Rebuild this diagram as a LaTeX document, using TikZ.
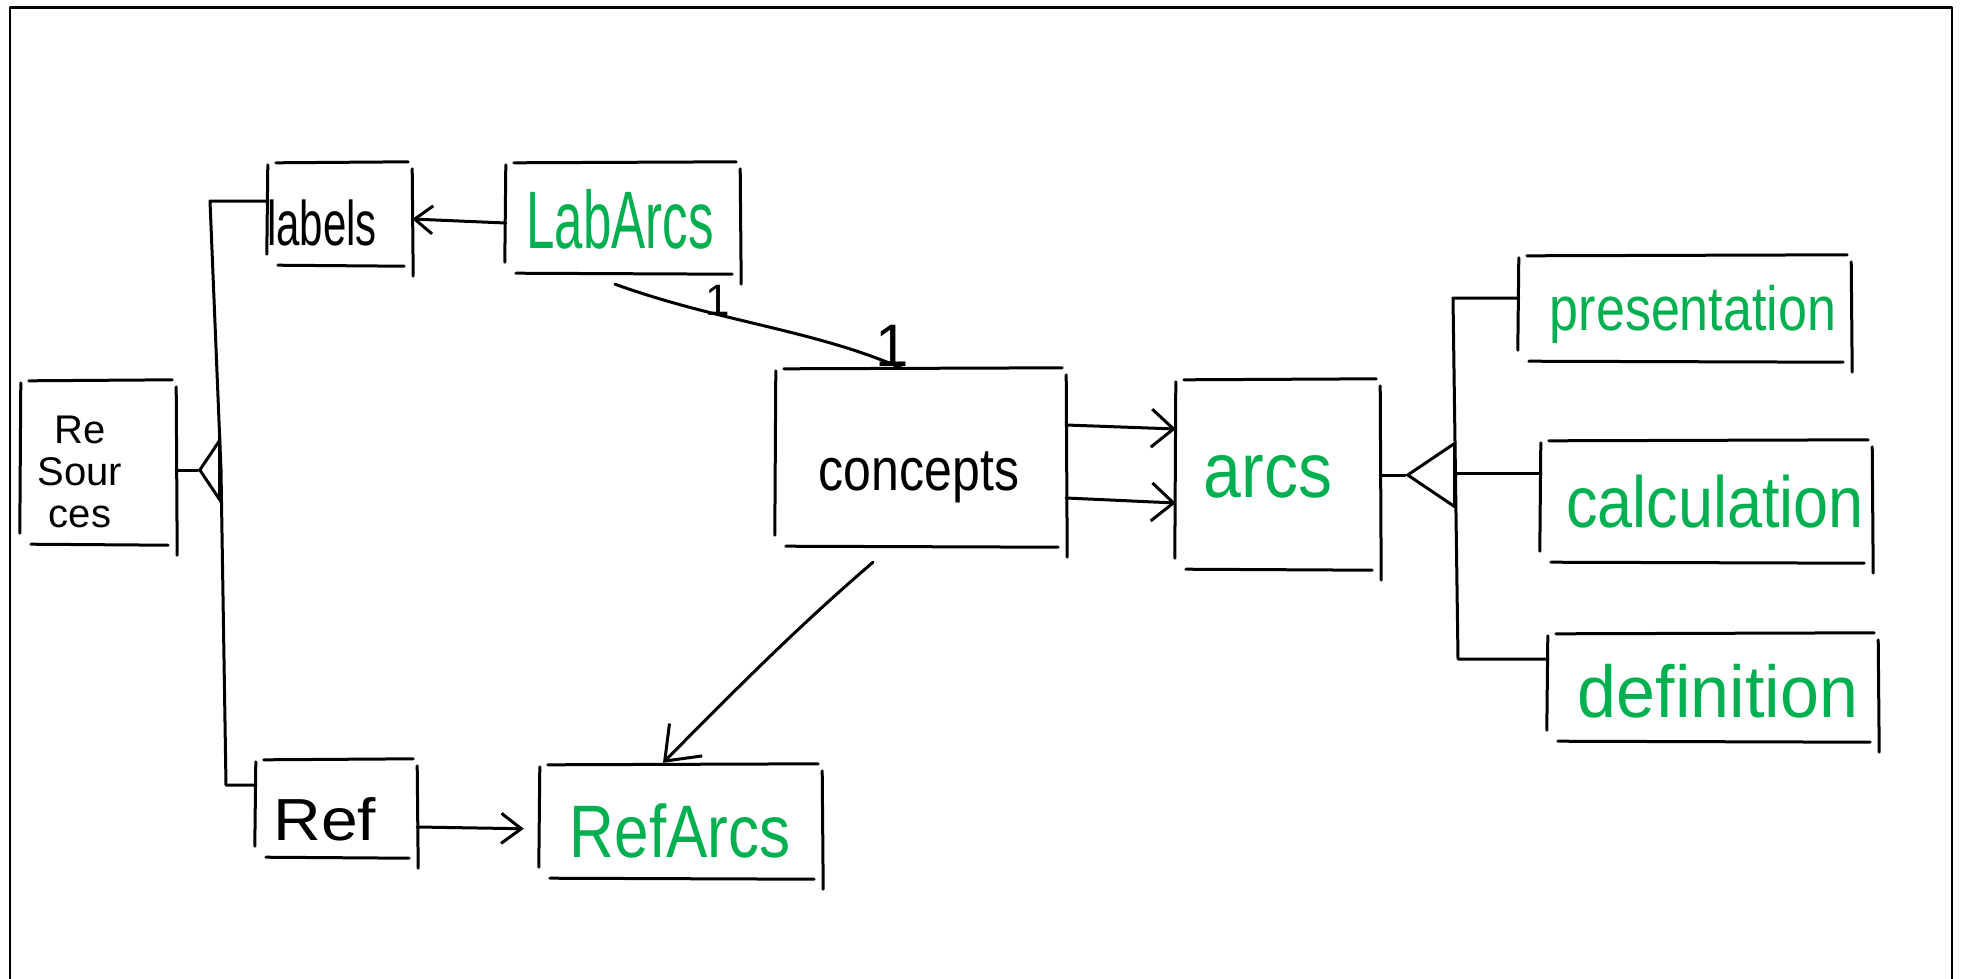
\documentclass[tikz,border=0pt]{standalone}
\usepackage{graphicx}
\usepackage{fontspec}
\setmainfont{Liberation Sans}
\usetikzlibrary{arrows.meta,calc}
\definecolor{skgreen}{RGB}{0,176,80}
\newcommand\fsz[1]{\fontsize{#1}{#1}\selectfont}
\newcommand\vs[2]{\scalebox{1}[#1]{#2}}
\newcommand\skbox[1]{%
  \draw[sk] ($(#1.north west)+(8,0)$) -- ($(#1.north east)+(-4,-1)$);
  \draw[sk] ($(#1.north east)+(0,6)$) -- ($(#1.south east)+(1,10)$);
  \draw[sk] ($(#1.south east)+(-8,0)$) -- ($(#1.south west)+(10,-1)$);
  \draw[sk] ($(#1.south west)+(-1,-12)$) -- ($(#1.north west)+(0,2)$);
}
\begin{document}
\begin{tikzpicture}[x=1pt,y=-1pt,line cap=round,line join=round,
  sk/.style={line width=3pt},
  box/.style={inner sep=0pt},
  txt/.style={inner sep=0pt,anchor=base},
  gtxt/.style={txt,text=skgreen},
  arr/.style={sk,-{Straight Barb[length=22pt,width=38pt]}},
  genarrow/.style={sk,-{Triangle[open,length=#1,width=68pt]}}]
\useasboundingbox (0,0) rectangle (1961,978);
% frame
\draw[line width=2.4pt] (10,1000) -- (10,7.5) -- (1952,7.5) -- (1952,1000);

% boxes
\node[box,minimum width=155pt,minimum height=164pt] (res) at (98.5,463) {};
\node[box,minimum width=144pt,minimum height=103pt] (labels) at (340,214.5) {};
\node[box,minimum width=234pt,minimum height=111pt] (labarcs) at (623,218.5) {};
\node[box,minimum width=290pt,minimum height=178pt] (concepts) at (921,458) {};
\node[box,minimum width=204pt,minimum height=190pt] (arcs) at (1278,475) {};
\node[box,minimum width=332pt,minimum height=106pt] (pres) at (1685,309) {};
\node[box,minimum width=331pt,minimum height=122pt] (calc) at (1706.5,502) {};
\node[box,minimum width=330pt,minimum height=108pt] (defn) at (1713,688) {};
\node[box,minimum width=161pt,minimum height=98pt] (ref) at (336.5,809) {};
\node[box,minimum width=282pt,minimum height=114pt] (refarcs) at (681,822) {};

\foreach \b in {res,labels,labarcs,concepts,arcs,pres,calc,defn,ref,refarcs}{\skbox{\b}}

% texts
\node[inner sep=0pt,align=center,font=\fontsize{40}{42}\selectfont] (resT) at (80,472) {Re\\Sour\\ces};
\node[txt,font=\fsz{42}] (labelsT) at (322,245) {\vs{1.5}{labels}};
\node[gtxt,font=\fsz{51}] (labarcsT) at (620,248) {\vs{1.6}{LabArcs}};
\node[txt,font=\fsz{50}] (conceptsT) at (919,490) {\vs{1.2}{concepts}};
\node[gtxt,font=\fsz{68}] (arcsT) at (1268,497) {\vs{1.15}{arcs}};
\node[gtxt,font=\fsz{52}] (presT) at (1693,330) {\vs{1.2}{presentation}};
\node[gtxt,font=\fsz{63}] (calcT) at (1715,527) {\vs{1.15}{calculation}};
\node[gtxt,font=\fsz{70}] (defnT) at (1718,717) {\vs{1.05}{definition}};
\node[txt,font=\fsz{66}] (refT) at (325,840) {\vs{0.9}{Ref}};
\node[gtxt,font=\fsz{62}] (refarcsT) at (680,857) {\vs{1.2}{RefArcs}};

% generalization: labels, ref -> resources
\coordinate (tl) at (210,201);
\coordinate (g1) at (221,470);
\coordinate (tb) at (226,785);
\coordinate (a1) at (198,470);
\draw[sk] (labels.west |- tl) -- (tl) -- (g1) -- (tb) -- (ref.west |- tb);
\draw[sk] (res.east |- a1) -- (a1);
\draw[genarrow=23pt] (g1) -- (a1);

% labarcs -> labels
\draw[arr,-{Straight Barb[length=18pt,width=28pt]}] (labarcs.west |- 0,223) -- (labels.east |- 0,219);

% labarcs -- concepts with multiplicities
\draw[sk] ($(labarcs.south)+(-8,10)$) .. controls (720,322) and (815,330) .. ($(concepts.north)+(-18,0)$);
\node[font=\fsz{44}] (m1) at (718,300) {1};
\node[font=\fsz{60}] (m2) at (892,346) {1};

% concepts -> arcs
\draw[arr] (concepts.east |- 0,425) -- (arcs.west |- 0,429);
\draw[arr] (concepts.east |- 0,498) -- (arcs.west |- 0,503);

% arcs generalization tree
\coordinate (a2) at (1405,475);
\coordinate (g2) at (1456,475);
\draw[sk] (arcs.east |- a2) -- (a2);
\draw[genarrow=51pt] (g2) -- (a2);
\draw[sk] (pres.west |- 0,298) -- (1453,298) -- (1458,659) -- (defn.west |- 0,659);
\draw[sk] (1456,473) -- (calc.west |- 0,473);

% concepts -> refarcs
\draw[arr,-{Straight Barb[length=30pt,width=46pt]}] ($(concepts.south)+(-48,15)$) .. controls (800,625) and (745,680) .. ($(refarcs.north)+(-18,-2)$);

% ref -> refarcs
\draw[arr,shorten >=16pt,-{Straight Barb[length=20pt,width=30pt]}] (ref.east |- 0,827) -- (refarcs.west |- 0,829);
\end{tikzpicture}
\end{document}
